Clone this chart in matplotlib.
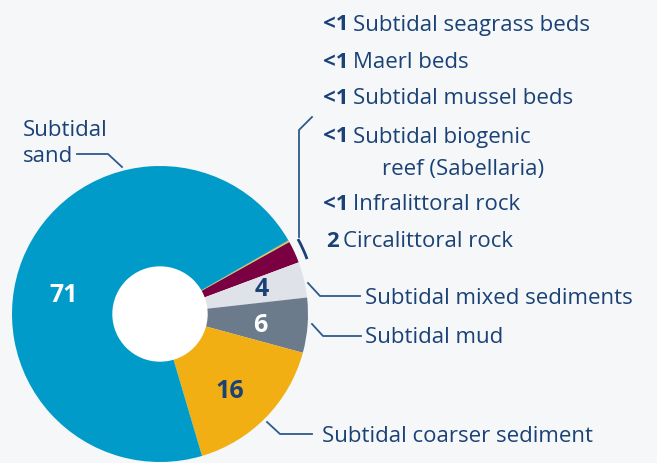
import numpy as np
import matplotlib.pyplot as plt
from matplotlib.patches import Circle, Arc

# habitat share (%) of the area, clockwise from the top-right thin slices
habitats = ["Subtidal seagrass beds", "Maerl beds", "Subtidal mussel beds",
            "Subtidal biogenic\nreef (Sabellaria)", "Infralittoral rock",
            "Circalittoral rock", "Subtidal mixed sediments", "Subtidal mud",
            "Subtidal coarser sediment", "Subtidal\nsand"]
shares = [0.02, 0.02, 0.02, 0.02, 0.15, 2.4, 3.9, 6.0, 16.2, 71.3]
shown = ["<1", "<1", "<1", "<1", "<1", "2", "4", "6", "16", "71"]

colors = ["#4f8a3c", "#b04a7a", "#1b3a6b", "#e07b2b", "#c9d13f",
          "#7a0041", "#dfe2e8", "#6b7b8b", "#f2af13", "#009bc8"]

BG = "#f5f7f9"
NAVY = "#1b4276"
LINE = "#2f5a8c"
FS = 16
plt.rcParams['font.family'] = ['Open Sans', 'DejaVu Sans']

W, H = 657, 464
fig = plt.figure(figsize=(W / 100, H / 100), dpi=100, facecolor=BG)
ax = fig.add_axes([0, 0, 1, 1])


def py(y):
    # picture y (top down) -> axes y
    return H - y


def label(x, y, s, **kw):
    kw.setdefault("fontsize", FS)
    kw.setdefault("color", NAVY)
    kw.setdefault("ha", "left")
    ax.text(x, py(y + 2), s, va="center", **kw)


cx, cy, R = 160, py(315), 148
wedges, _ = ax.pie(shares, colors=colors, startangle=29.9, counterclock=False,
                   center=(cx, cy), radius=R, frame=True)
ax.set_xlim(0, W)
ax.set_ylim(0, H)
ax.set_aspect("equal")
ax.axis("off")
ax.add_patch(Circle((cx, cy), 47, color="white", zorder=3))

# values inside the big slices
inside = {9: (64, 295, "white"), 8: (230, 392, NAVY), 7: (260, 325, "white"), 6: (262, 290, NAVY)}
for i, (x, y, c) in inside.items():
    ax.text(x, py(y), shown[i], ha="center", va="center", fontsize=18,
            fontweight="bold", color=c, zorder=4)

# stacked labels for the small slices
rows = [23, 60, 97, 135, 203, 240]
for i, y in enumerate(rows):
    num = shown[i]
    lines = habitats[i].split("\n")
    xoff = 353 if num == "<1" else 343
    label(xoff - 4, y, num, ha="right", fontweight="bold")
    label(xoff, y, lines[0])
    if len(lines) > 1:
        label(382, y + 32, lines[1])

# leader for the small slices
ax.plot([312, 299, 299], [py(118), py(131), py(238)], color=LINE, lw=1.3)
ax.add_patch(Arc((cx, cy), 2 * 157, 2 * 157, theta1=20.5, theta2=28.5,
                 color=NAVY, lw=2))

# right hand labels
lab = [(6, [(308, 284), (320, 297), (360, 297)], (365, 297)),
       (7, [(312, 325), (323, 337), (361, 337)], (365, 336)),
       (8, [(267, 423), (280, 435), (312, 435)], (322, 435))]
for i, pts, (tx, ty) in lab:
    xs, ys = zip(*pts)
    ax.plot(xs, [py(v) for v in ys], color=LINE, lw=1.3)
    label(tx, ty, habitats[i])

# sand label
sand = habitats[9].split("\n")
label(23, 129, sand[0])
label(23, 155, sand[1])
ax.plot([77, 108, 122], [py(155), py(155), py(168)], color=LINE, lw=1.3)

fig.savefig("out.png", dpi=100, facecolor=BG)
